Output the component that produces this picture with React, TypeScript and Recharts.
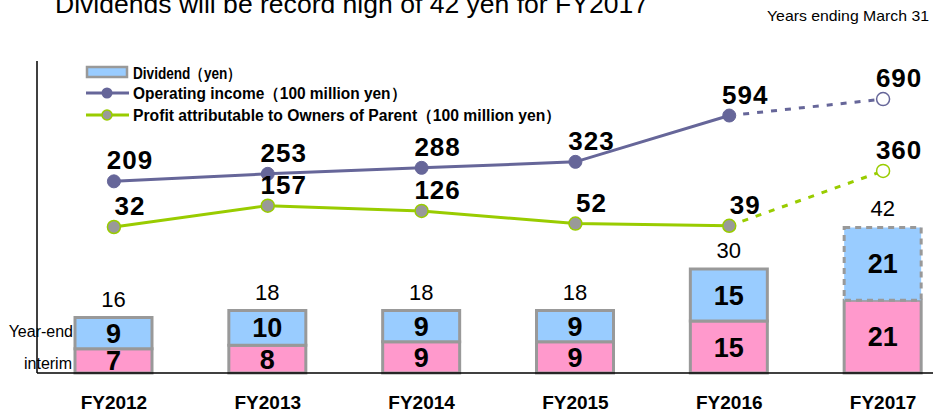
import { ComposedChart, Bar, Line, XAxis, YAxis, Cell, LabelList } from 'recharts';

const categories = ['FY2012', 'FY2013', 'FY2014', 'FY2015', 'FY2016', 'FY2017'];
const interimDividend = [7, 8, 9, 9, 15, 21];
const yearEndDividend = [9, 10, 9, 9, 15, 21];
const totalDividend = [16, 18, 18, 18, 30, 42];
const operatingIncome = [209, 253, 288, 323, 594, 690];
const profitAttributable = [32, 157, 126, 52, 39, 360];
// FY2017 is the forecast year (dashed)
const forecastIndex = 5;

const PINK = '#FF99CC';
const BLUE = '#99CCFF';
const BORDER = '#999999';
const PURPLE = '#666699';
const GREEN = '#99CC00';

const rows = categories.map((name, i) => ({
  name,
  interim: interimDividend[i],
  yearEnd: yearEndDividend[i],
  total: totalDividend[i],
  op: i < forecastIndex ? operatingIncome[i] : null,
  opForecast: i >= forecastIndex - 1 ? operatingIncome[i] : null,
  profit: i < forecastIndex ? profitAttributable[i] : null,
  profitForecast: i >= forecastIndex - 1 ? profitAttributable[i] : null,
}));

function segmentLabel(props: any) {
  const { x, y, width, height, value } = props;
  if (value == null) return null;
  return (
    <text
      x={x + width / 2}
      y={y + height / 2 + 9.5}
      textAnchor="middle"
      fontFamily="Liberation Sans"
      fontWeight="bold"
      fontSize={27}
      fill="#000"
    >
      {value}
    </text>
  );
}

function totalLabel(props: any) {
  const { x, y, width, value } = props;
  return (
    <text x={x + width / 2} y={y - 11} textAnchor="middle" fontFamily="Liberation Sans" fontSize={22} fill="#000">
      {value}
    </text>
  );
}

const lineLabel = (show: (i: number) => boolean) => (props: any) => {
  const { x, y, value, index } = props;
  if (value == null || !show(index)) return null;
  return (
    <text
      x={x + 16}
      y={y - 12}
      textAnchor="middle"
      fontFamily="Liberation Sans"
      fontWeight="bold"
      fontSize={26}
      letterSpacing={1}
      fill="#000"
    >
      {value}
    </text>
  );
};

const forecastDot = (color: string) => (props: any) => {
  const { cx, cy, index } = props;
  if (index !== forecastIndex || cx == null) return <g key={`fd-${index}`} />;
  return <circle key={`fd-${index}`} cx={cx} cy={cy} r={6.5} fill="#fff" stroke={color} strokeWidth={1.5} />;
};

function CategoryTick(props: any) {
  const { x, y, payload } = props;
  return (
    <text x={x} y={y + 34} textAnchor="middle" fontFamily="Liberation Sans" fontWeight="bold" fontSize={19} fill="#000">
      {payload.value}
    </text>
  );
}

export default function App() {
  return (
    <div style={{ position: 'relative', width: 933, height: 414, overflow: 'hidden', background: '#fff' }}>
      <style>{`body{margin:0}`}</style>
      <ComposedChart width={975} height={414} data={rows} margin={{ top: 61, right: 15, left: 0, bottom: 0 }}>
        <XAxis
          dataKey="name"
          height={41}
          tickLine={false}
          tickSize={0}
          tick={<CategoryTick />}
          axisLine={{ stroke: '#000', strokeWidth: 1.5 }}
        />
        <YAxis yAxisId="div" domain={[0, 90]} width={37} tick={false} tickLine={false} axisLine={{ stroke: '#000', strokeWidth: 1.5 }} />
        <YAxis yAxisId="op" hide domain={[-912, 913]} allowDataOverflow />
        <YAxis yAxisId="profit" hide domain={[-822, 1003]} allowDataOverflow />

        <Bar yAxisId="div" dataKey="interim" stackId="d" barSize={77} fill={PINK} stroke={BORDER} strokeWidth={3} isAnimationActive={false}>
          <LabelList dataKey="interim" content={segmentLabel} />
        </Bar>
        <Bar yAxisId="div" dataKey="yearEnd" stackId="d" barSize={77} fill={BLUE} stroke={BORDER} strokeWidth={3} isAnimationActive={false}>
          {rows.map((r, i) => (
            <Cell key={r.name} strokeDasharray={i === forecastIndex ? '6 5' : undefined} />
          ))}
          <LabelList dataKey="yearEnd" content={segmentLabel} />
          <LabelList dataKey="total" content={totalLabel} />
        </Bar>

        <Line
          yAxisId="op"
          dataKey="opForecast"
          stroke={PURPLE}
          strokeWidth={3}
          strokeDasharray="6 8"
          dot={forecastDot(PURPLE)}
          activeDot={false}
          isAnimationActive={false}
        >
          <LabelList dataKey="opForecast" content={lineLabel((i) => i === forecastIndex)} />
        </Line>
        <Line
          yAxisId="profit"
          dataKey="profitForecast"
          stroke={GREEN}
          strokeWidth={3}
          strokeDasharray="6 8"
          dot={forecastDot(GREEN)}
          activeDot={false}
          isAnimationActive={false}
        >
          <LabelList dataKey="profitForecast" content={lineLabel((i) => i === forecastIndex)} />
        </Line>
        <Line
          yAxisId="op"
          dataKey="op"
          stroke={PURPLE}
          strokeWidth={3}
          dot={{ r: 6.5, fill: PURPLE, stroke: PURPLE, strokeWidth: 1 }}
          activeDot={false}
          isAnimationActive={false}
        >
          <LabelList dataKey="op" content={lineLabel((i) => i < forecastIndex)} />
        </Line>
        <Line
          yAxisId="profit"
          dataKey="profit"
          stroke={GREEN}
          strokeWidth={3}
          dot={{ r: 6.5, fill: '#999999', stroke: GREEN, strokeWidth: 1.5 }}
          activeDot={false}
          isAnimationActive={false}
        >
          <LabelList dataKey="profit" content={lineLabel((i) => i < forecastIndex)} />
        </Line>
      </ComposedChart>

      <svg width={933} height={414} style={{ position: 'absolute', left: 0, top: 0, pointerEvents: 'none' }}>
        <text x={55} y={13} fontFamily="Liberation Sans" fontSize={26} fill="#000" textLength={593} lengthAdjust="spacingAndGlyphs">
          Dividends will be record high of 42 yen for FY2017
        </text>
        <text x={767} y={21} fontFamily="Liberation Sans" fontSize={15} fill="#000" textLength={162} lengthAdjust="spacingAndGlyphs">
          Years ending March 31
        </text>

        <rect x={87} y={67} width={40} height={10} fill={BLUE} stroke={BORDER} strokeWidth={2.5} />
        <line x1={86} y1={93} x2={129} y2={93} stroke={PURPLE} strokeWidth={3} />
        <circle cx={107} cy={93} r={5.5} fill={PURPLE} />
        <line x1={86} y1={115} x2={129} y2={115} stroke={GREEN} strokeWidth={3} />
        <circle cx={107} cy={115} r={5} fill="#999999" stroke={GREEN} strokeWidth={1.5} />
        <g fontFamily="Liberation Sans" fontWeight="bold" fontSize={16} fill="#000">
          <text x={133} y={79} textLength={108} lengthAdjust="spacingAndGlyphs">Dividend（yen）</text>
          <text x={133} y={99} textLength={273} lengthAdjust="spacingAndGlyphs">Operating income（100 million yen）</text>
          <text x={133} y={121} textLength={428} lengthAdjust="spacingAndGlyphs">
            Profit attributable to Owners of Parent（100 million yen）
          </text>
        </g>

        <g fontFamily="Liberation Sans" fontSize={16} fill="#000" textAnchor="end">
          <text x={73} y={337}>Year-end</text>
          <text x={72} y={369}>interim</text>
        </g>
      </svg>
    </div>
  );
}
